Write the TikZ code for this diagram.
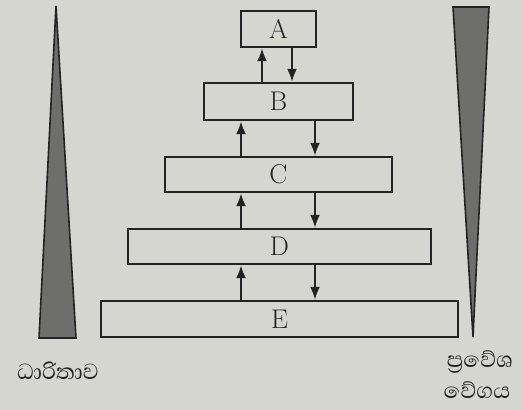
\documentclass[tikz,border=0pt]{standalone}
\usepackage{fontspec}
\newfontfamily\sinfont[Script=Sinhala]{Abhaya Libre}
\usetikzlibrary{arrows.meta}
\definecolor{bg}{RGB}{214,214,208}
\definecolor{tri}{RGB}{110,110,108}
\definecolor{ink}{RGB}{35,35,35}
\begin{document}
\begin{tikzpicture}[x=1pt,y=-1pt,
  box/.style={draw=ink,line width=2.4pt,inner sep=0pt,font=\fontsize{27}{29}\selectfont,text=ink},
  arr/.style={draw=ink,line width=2.2pt,-{Latex[length=13pt,width=10pt]}},
  lbl/.style={font=\sinfont\fontsize{28}{30}\selectfont,text=ink,inner sep=0pt}]
\fill[bg] (0,0) rectangle (523,410);
\useasboundingbox (0,0) rectangle (523,410);
% triangles
\filldraw[fill=tri,draw=ink,line width=1.6pt] (56,6) -- (76,338) -- (39,338) -- cycle;
\filldraw[fill=tri,draw=ink,line width=1.6pt] (453,7) -- (489,7) -- (473,337) -- cycle;
% boxes
\node[box,minimum width=75pt,minimum height=36pt] (A) at (278.5,29) {A};
\node[box,minimum width=149pt,minimum height=37pt] (B) at (278.5,101.5) {B};
\node[box,minimum width=227pt,minimum height=35pt] (C) at (278.5,174.5) {C};
\node[box,minimum width=303pt,minimum height=35pt] (D) at (279.5,246.5) {D};
\node[box,minimum width=357pt,minimum height=36pt] (E) at (279.5,319) {E};
% arrow columns
\coordinate (u1) at (262,0);
\coordinate (d1) at (292,0);
\coordinate (u2) at (241,0);
\coordinate (d2) at (315,0);
\draw[arr] (B.north -| u1) -- (A.south -| u1);
\draw[arr] (A.south -| d1) -- (B.north -| d1);
\draw[arr] (C.north -| u2) -- (B.south -| u2);
\draw[arr] (B.south -| d2) -- (C.north -| d2);
\draw[arr] (D.north -| u2) -- (C.south -| u2);
\draw[arr] (C.south -| d2) -- (D.north -| d2);
\draw[arr] (E.north -| u2) -- (D.south -| u2);
\draw[arr] (D.south -| d2) -- (E.north -| d2);
% labels
\node[lbl] (cap) at (58,371) {ධාරිතාව};
\node[lbl] (sp1) at (480,362) {ප්‍රවේශ};
\node[lbl] (sp2) at (477,390) {වේගය};
\end{tikzpicture}
\end{document}
